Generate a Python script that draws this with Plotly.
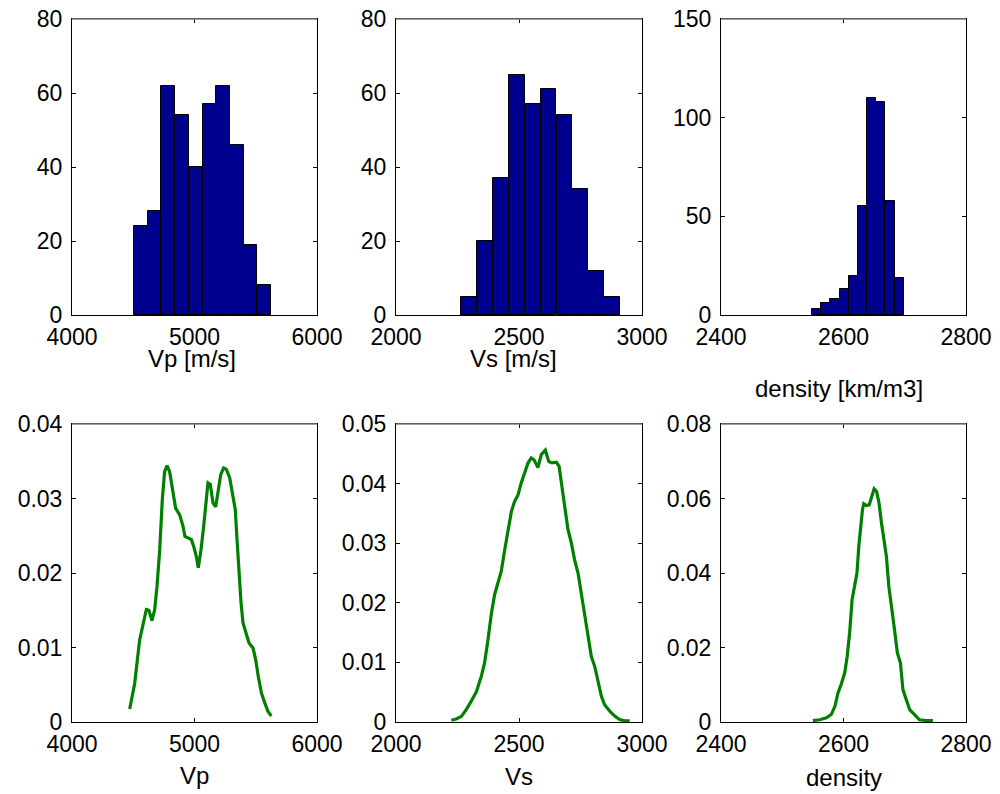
import plotly.graph_objects as go

# ---------------- data ----------------
vp_centers = [4562, 4674, 4786, 4898, 5010, 5122, 5234, 5346, 5458, 5570]
vp_counts = [24, 28, 62, 54, 40, 57, 62, 46, 19, 8]
vp_width = 112

vs_centers = [2298, 2362, 2427, 2491, 2556, 2620, 2685, 2749, 2814, 2878]
vs_counts = [5, 20, 37, 65, 57, 61, 54, 34, 12, 5]
vs_width = 64.5

rho_centers = [2556, 2571, 2586, 2601, 2616, 2631, 2646, 2661, 2676, 2691]
rho_counts = [3, 6, 8, 13, 20, 55, 110, 108, 58, 19]
rho_width = 15

vp_kde_x = [4471, 4512, 4552, 4585, 4607, 4628, 4653, 4675, 4694, 4716, 4737, 4756, 4776,
            4797, 4824, 4846, 4879, 4906, 4922, 4947, 4974, 4993, 5015, 5031, 5053, 5075,
            5097, 5110, 5129, 5151, 5173, 5192, 5214, 5238, 5260, 5287, 5314, 5333, 5347,
            5363, 5380, 5396, 5418, 5445, 5478, 5499, 5521, 5546, 5573, 5600, 5627]
vp_kde_y = [0.00175, 0.0052, 0.011, 0.0137, 0.0151, 0.0150, 0.0136, 0.0151, 0.0182, 0.0231,
            0.0298, 0.0336, 0.0344, 0.0336, 0.0312, 0.0287, 0.0278, 0.0263, 0.0249, 0.0247,
            0.0245, 0.0236, 0.0222, 0.0207, 0.0231, 0.0263, 0.0307, 0.0321, 0.0319, 0.0294,
            0.0289, 0.0312, 0.0332, 0.0341, 0.0339, 0.0328, 0.0303, 0.0285, 0.0245, 0.0200,
            0.0160, 0.0133, 0.0119, 0.0106, 0.0099, 0.0084, 0.0061, 0.0039, 0.0026, 0.0014,
            0.0008]

vs_kde_x = [2225, 2245, 2266, 2286, 2306, 2327, 2347, 2360, 2374, 2388, 2401, 2415, 2428,
            2442, 2455, 2469, 2482, 2496, 2509, 2523, 2537, 2550, 2561, 2577, 2591, 2607,
            2621, 2634, 2652, 2663, 2672, 2686, 2699, 2713, 2726, 2740, 2753, 2767, 2780,
            2794, 2808, 2821, 2835, 2848, 2869, 2889, 2909, 2930, 2950]
vs_kde_y = [0.0003, 0.0005, 0.00095, 0.0021, 0.0035, 0.0051, 0.0077, 0.0099, 0.0138, 0.0183,
            0.0214, 0.0233, 0.0253, 0.0289, 0.0323, 0.0353, 0.0370, 0.0381, 0.0401, 0.0418,
            0.0435, 0.0443, 0.0440, 0.0427, 0.0449, 0.0456, 0.0437, 0.0435, 0.0436, 0.0429,
            0.0401, 0.0356, 0.0323, 0.0300, 0.0272, 0.0250, 0.0216, 0.0177, 0.0138, 0.0110,
            0.0093, 0.0071, 0.0043, 0.0029, 0.0018, 0.0010, 0.0004, 0.0002, 0.0002]

rho_kde_x = [2550, 2561, 2572, 2580, 2586, 2591, 2596, 2602, 2606, 2610, 2614, 2618, 2622,
             2625, 2628, 2631, 2633, 2637, 2642, 2645, 2650, 2654, 2658, 2662, 2666, 2670,
             2674, 2679, 2684, 2688, 2693, 2697, 2703, 2708, 2716, 2724, 2735, 2746]
rho_kde_y = [0.0004, 0.0006, 0.0011, 0.0020, 0.0042, 0.0078, 0.0100, 0.0132, 0.0176, 0.0239,
             0.0328, 0.0364, 0.0400, 0.0472, 0.0525, 0.0570, 0.0586, 0.0581, 0.0583, 0.0601,
             0.0626, 0.0619, 0.0588, 0.0534, 0.0481, 0.0445, 0.0364, 0.0293, 0.0239, 0.0185,
             0.0158, 0.0087, 0.0055, 0.0033, 0.0020, 0.0006, 0.0004, 0.0004]

hist_xlabels = ["Vp [m/s]", "Vs [m/s]", "density [km/m3]"]
kde_xlabels = ["Vp", "Vs", "density"]

# ---------------- figure ----------------
# the page places the figure 8 px from the top-left corner, so the figure is
# 992x786 and all pixel positions below are in figure coordinates
W, H = 992, 786
BAR = "#00008F"
GREEN = "#008000"
FONT = "Liberation Sans, Arial, Helvetica, sans-serif"

cols_px = [(64, 309), (388, 634), (713, 958)]
top_px = (11, 307)
bot_px = (416, 714)

def xd(p):
    return [p[0] / W, p[1] / W]

def yd(p):
    return [1 - p[1] / H, 1 - p[0] / H]

fig = go.Figure()

hists = [(vp_centers, vp_counts, vp_width), (vs_centers, vs_counts, vs_width),
         (rho_centers, rho_counts, rho_width)]
kdes = [(vp_kde_x, vp_kde_y), (vs_kde_x, vs_kde_y), (rho_kde_x, rho_kde_y)]

xranges = [[4000, 6000], [2000, 3000], [2400, 2800]]
xdticks = [1000, 500, 200]
hist_yr = [[0, 80], [0, 80], [0, 150]]
hist_dt = [20, 20, 50]
kde_yr = [[0, 0.04], [0, 0.05], [0, 0.08]]
kde_dt = [0.01, 0.01, 0.02]
hist_label_shift = [(-3, -43), (-6, -43), (-5, -73)]
kde_label_shift = [(0, -53), (0, -54), (0, -55)]

axis_common = dict(
    showline=True, linecolor="black", linewidth=1, mirror="ticks",
    ticks="inside", ticklen=4, tickcolor="black", tickwidth=1,
    showgrid=False, zeroline=False, automargin=False,
    ticklabeloverflow="allow",
    tickfont=dict(family=FONT, size=23, color="black"),
)

annotations = []
for i in range(3):
    n = i + 1
    c, v, w = hists[i]
    fig.add_trace(go.Bar(x=c, y=v, width=w, marker=dict(color=BAR, line=dict(color="black", width=1)),
                         xaxis=f"x{n}", yaxis=f"y{n}", showlegend=False))
    fig.layout[f"xaxis{n}"] = dict(domain=xd(cols_px[i]), anchor=f"y{n}", range=xranges[i],
                                   dtick=xdticks[i], tick0=0, ticklabelstandoff=1, **axis_common)
    fig.layout[f"yaxis{n}"] = dict(domain=yd(top_px), anchor=f"x{n}", range=hist_yr[i],
                                   dtick=hist_dt[i], tick0=0, ticklabelstandoff=4, **axis_common)
    xs = "" if n == 1 else str(n)
    annotations.append(dict(text=hist_xlabels[i], xref=f"x{xs} domain", yref=f"y{xs} domain",
                            x=0.5, y=0, xanchor="center", yanchor="middle",
                            xshift=hist_label_shift[i][0], yshift=hist_label_shift[i][1],
                            showarrow=False, font=dict(family=FONT, size=24, color="black")))
    m = i + 4
    kx, ky = kdes[i]
    fig.add_trace(go.Scatter(x=kx, y=ky, mode="lines", line=dict(color=GREEN, width=3.2),
                             xaxis=f"x{m}", yaxis=f"y{m}", showlegend=False))
    fig.layout[f"xaxis{m}"] = dict(domain=xd(cols_px[i]), anchor=f"y{m}", range=xranges[i],
                                   dtick=xdticks[i], tick0=0, ticklabelstandoff=1, **axis_common)
    fig.layout[f"yaxis{m}"] = dict(domain=yd(bot_px), anchor=f"x{m}", range=kde_yr[i],
                                   dtick=kde_dt[i], tick0=0, ticklabelstandoff=4, **axis_common)
    annotations.append(dict(text=kde_xlabels[i], xref=f"x{m} domain", yref=f"y{m} domain",
                            x=0.5, y=0, xanchor="center", yanchor="middle",
                            xshift=kde_label_shift[i][0], yshift=kde_label_shift[i][1],
                            showarrow=False, font=dict(family=FONT, size=24, color="black")))

shapes = []
for n in range(1, 7):
    xs = "" if n == 1 else str(n)
    shapes.append(dict(type="line", xref=f"x{xs} domain", yref=f"y{xs} domain",
                       x0=0, x1=1, y0=1, y1=1, line=dict(color="#808080", width=1.3)))

fig.update_layout(
    width=W, height=H,
    margin=dict(l=0, r=0, t=0, b=0, autoexpand=False),
    paper_bgcolor="white", plot_bgcolor="white",
    showlegend=False, bargap=0,
    shapes=shapes, annotations=annotations,
    font=dict(family=FONT, color="black"),
)

fig.write_html("out.html", config={"displayModeBar": False})
